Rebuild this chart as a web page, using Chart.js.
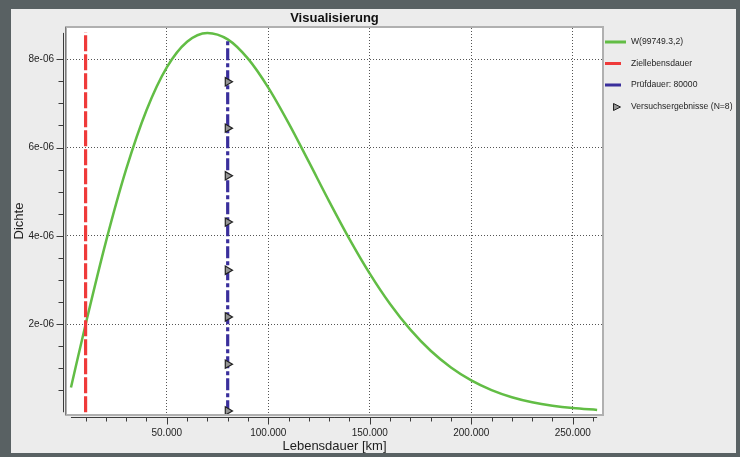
<!DOCTYPE html>
<html>
<head>
<meta charset="utf-8">
<script src="https://cdn.jsdelivr.net/npm/chart.js@4.4.0/dist/chart.umd.min.js"></script>
<style>
  html, body { margin: 0; padding: 0; background: #596163; }
  #wrap { width: 740px; height: 457px; }
</style>
</head>
<body>
<div id="wrap"><canvas id="grafik" width="740" height="457"></canvas></div>
<script>
// Dichtekurve W(99749.3,2)
const lebensdauer = [2800, 5000, 10000, 20000, 30000, 40000, 50000, 60000, 70000, 80000,
  90000, 100000, 110000, 120000, 130000, 140000, 150000, 160000, 170000, 180000,
  190000, 200000, 210000, 220000, 230000, 240000, 250000, 262000];
const dichte = [0.562e-6, 1.002e-6, 1.990e-6, 3.862e-6, 5.509e-6, 6.846e-6, 7.817e-6, 8.399e-6, 8.599e-6, 8.452e-6,
  8.015e-6, 7.358e-6, 6.553e-6, 5.674e-6, 4.781e-6, 3.925e-6, 3.142e-6, 2.454e-6, 1.872e-6, 1.394e-6,
  1.015e-6, 0.722e-6, 0.502e-6, 0.341e-6, 0.227e-6, 0.148e-6, 0.094e-6, 0.053e-6];

// Versuchsergebnisse (N=8)
const versuchX = [80000, 80000, 80000, 80000, 80000, 80000, 80000, 80000];
const versuchY = [7.49e-6, 6.44e-6, 5.36e-6, 4.31e-6, 3.22e-6, 2.16e-6, 1.09e-6, 0.03e-6];

// senkrechte Linien
const zielLebensdauer = 10000;
const zielLinieY = [0, 8.62e-6];
const pruefDauer = 80000;
const pruefLinieY = [0, 8.45e-6];

// Achsen
const xTicksMajor = [50000, 100000, 150000, 200000, 250000];
const xTickLabels = ['50.000', '100.000', '150.000', '200.000', '250.000'];
const yTicksMajor = [2e-6, 4e-6, 6e-6, 8e-6];
const yTickLabels = ['2e-06', '4e-06', '6e-06', '8e-06'];

const legendeTexte = ['W(99749.3,2)', 'Ziellebensdauer', 'Prüfdauer: 80000', 'Versuchsergebnisse (N=8)'];

const GRUEN = '#62bd45';
const ROT = '#ef3a3a';
const BLAU = '#3a2f9c';
const TEXT = '#1e1e1e';

Chart.defaults.font.family = "'Liberation Sans', Arial, sans-serif";

function istMajor(wert, liste) {
  return liste.findIndex(v => Math.abs(v - wert) < Math.abs(v) * 1e-6);
}

const rahmenPlugin = {
  id: 'rahmen',
  beforeDraw(chart) {
    const ctx = chart.ctx;
    const a = chart.chartArea;
    ctx.save();
    ctx.fillStyle = '#596163';
    ctx.fillRect(0, 0, chart.width, chart.height);
    ctx.fillStyle = '#ececec';
    ctx.fillRect(11, 9, 725, 444);
    ctx.fillStyle = '#ffffff';
    ctx.fillRect(a.left, a.top, a.right - a.left, a.bottom - a.top);
    ctx.restore();
  },
  afterDraw(chart) {
    const ctx = chart.ctx;
    const a = chart.chartArea;
    const sx = chart.scales.x;
    const sy = chart.scales.y;
    ctx.save();

    // Rahmen um die Zeichenflaeche
    ctx.strokeStyle = '#b0b0b0';
    ctx.lineWidth = 2;
    ctx.strokeRect(a.left - 1, a.top - 1, a.right - a.left + 2, a.bottom - a.top + 2);
    ctx.strokeStyle = '#7a7a7a';
    ctx.lineWidth = 1;
    ctx.beginPath();
    ctx.moveTo(a.left - 1.5, a.top - 1);
    ctx.lineTo(a.left - 1.5, a.bottom + 1);
    ctx.stroke();

    // Achsenlinien (abgesetzt wie im Original)
    ctx.strokeStyle = '#3c3c3c';
    ctx.lineWidth = 1;
    const bx = a.left - 3.5;
    const by = a.bottom + 3.5;
    ctx.beginPath();
    ctx.moveTo(bx, sy.getPixelForValue(Math.max(...dichte)));
    ctx.lineTo(bx, sy.getPixelForValue(0));
    ctx.moveTo(sx.getPixelForValue(lebensdauer[0]), by);
    ctx.lineTo(sx.getPixelForValue(lebensdauer[lebensdauer.length - 1]), by);
    sy.ticks.forEach(t => {
      const k = t.value / 0.5e-6;
      if (t.value < 0 || Math.abs(k - Math.round(k)) > 1e-6) return;
      const p = Math.round(sy.getPixelForValue(t.value)) + 0.5;
      const len = Math.round(k) % 4 === 0 ? 7 : 5;
      ctx.moveTo(bx, p);
      ctx.lineTo(bx - len, p);
    });
    sx.ticks.forEach(t => {
      const k = t.value / 10000;
      if (Math.abs(k - Math.round(k)) > 1e-6) return;
      const p = Math.round(sx.getPixelForValue(t.value)) + 0.5;
      const len = Math.round(k) % 5 === 0 ? 7 : 4;
      ctx.moveTo(p, by);
      ctx.lineTo(p, by + len);
    });
    ctx.stroke();

    // Legende
    const ds = chart.data.datasets;
    const zeilen = [42, 63.5, 85, 107];
    const laengen = [21, 16, 16];
    ctx.font = "8.6px 'Liberation Sans', Arial, sans-serif";
    ctx.textBaseline = 'middle';
    ctx.textAlign = 'left';
    ds.forEach((d, i) => {
      const y = zeilen[i];
      if (i < 3) {
        ctx.strokeStyle = d.borderColor;
        ctx.lineWidth = 3;
        ctx.beginPath();
        ctx.moveTo(605, y);
        ctx.lineTo(605 + laengen[i], y);
        ctx.stroke();
      } else {
        ctx.fillStyle = d.backgroundColor;
        ctx.strokeStyle = d.borderColor;
        ctx.lineWidth = 1;
        ctx.beginPath();
        ctx.moveTo(613.5, y - 3.5);
        ctx.lineTo(620.5, y);
        ctx.lineTo(613.5, y + 3.5);
        ctx.closePath();
        ctx.fill();
        ctx.stroke();
      }
      ctx.fillStyle = TEXT;
      ctx.fillText(d.label, 631, y);
    });
    ctx.restore();
  }
};

const kurve = lebensdauer.map((x, i) => ({ x: x, y: dichte[i] }));
const ziel = zielLinieY.map(y => ({ x: zielLebensdauer, y: y }));
const pruef = pruefLinieY.map(y => ({ x: pruefDauer, y: y }));
const versuche = versuchX.map((x, i) => ({ x: x, y: versuchY[i] }));

new Chart(document.getElementById('grafik'), {
  type: 'scatter',
  data: {
    datasets: [
      {
        label: legendeTexte[0], data: kurve, showLine: true,
        borderColor: GRUEN, borderWidth: 2.5, pointRadius: 0,
        cubicInterpolationMode: 'monotone', order: 3
      },
      {
        label: legendeTexte[1], data: ziel, showLine: true,
        borderColor: ROT, borderWidth: 3.2, borderDash: [16, 3], pointRadius: 0, order: 2
      },
      {
        label: legendeTexte[2], data: pruef, showLine: true,
        borderColor: BLAU, borderWidth: 3.2, borderDash: [12, 3, 4, 3], pointRadius: 0, order: 1
      },
      {
        label: legendeTexte[3], data: versuche, showLine: false,
        pointStyle: 'triangle', rotation: 90, pointRadius: 4.8,
        backgroundColor: '#959595', borderColor: '#222222', borderWidth: 1.2, order: 0
      }
    ]
  },
  options: {
    responsive: false,
    animation: false,
    events: [],
    layout: { padding: { left: 0, right: 138, top: 0, bottom: 0 } },
    plugins: {
      legend: { display: false },
      tooltip: { enabled: false },
      title: {
        display: true, text: 'Visualisierung', fullSize: false, color: '#111',
        font: { size: 13, weight: 'bold' }, padding: { top: 11, bottom: 1.4 }
      }
    },
    scales: {
      x: {
        type: 'linear', min: 840, max: 264400,
        afterFit(s) { s.height = 43; },
        // Ticks alle 10.000 km, beschriftet alle 50.000 km
        afterBuildTicks(s) {
          const t = [];
          for (let v = Math.ceil(s.min / 10000) * 10000; v <= s.max; v += 10000) t.push({ value: v });
          s.ticks = t;
        },
        ticks: {
          autoSkip: false, maxRotation: 0, padding: 13,
          color: TEXT, font: { size: 10 },
          callback: v => { const i = istMajor(v, xTicksMajor); return i >= 0 ? xTickLabels[i] : ''; }
        },
        grid: {
          drawTicks: false, lineWidth: 1,
          color: c => istMajor(c.tick.value, xTicksMajor) >= 0 ? '#555555' : 'rgba(0,0,0,0)'
        },
        border: { display: false, dash: [1, 2] },
        title: {
          display: true, text: 'Lebensdauer [km]', color: TEXT,
          font: { size: 13 }, padding: { top: 0, bottom: 3.2 }
        }
      },
      y: {
        type: 'linear', min: -0.04e-6, max: 8.71e-6,
        afterFit(s) { s.width = 67; },
        ticks: {
          stepSize: 0.5e-6, autoSkip: false, padding: 13,
          color: TEXT, font: { size: 10 },
          callback: v => { const i = istMajor(v, yTicksMajor); return i >= 0 ? yTickLabels[i] : ''; }
        },
        grid: {
          drawTicks: false, lineWidth: 1,
          color: c => istMajor(c.tick.value, yTicksMajor) >= 0 ? '#555555' : 'rgba(0,0,0,0)'
        },
        border: { display: false, dash: [1, 2] },
        title: {
          display: true, text: 'Dichte', color: TEXT,
          font: { size: 13 }, padding: { top: 11.7, bottom: 0 }
        }
      }
    }
  },
  plugins: [rahmenPlugin]
});
</script>
</body>
</html>
